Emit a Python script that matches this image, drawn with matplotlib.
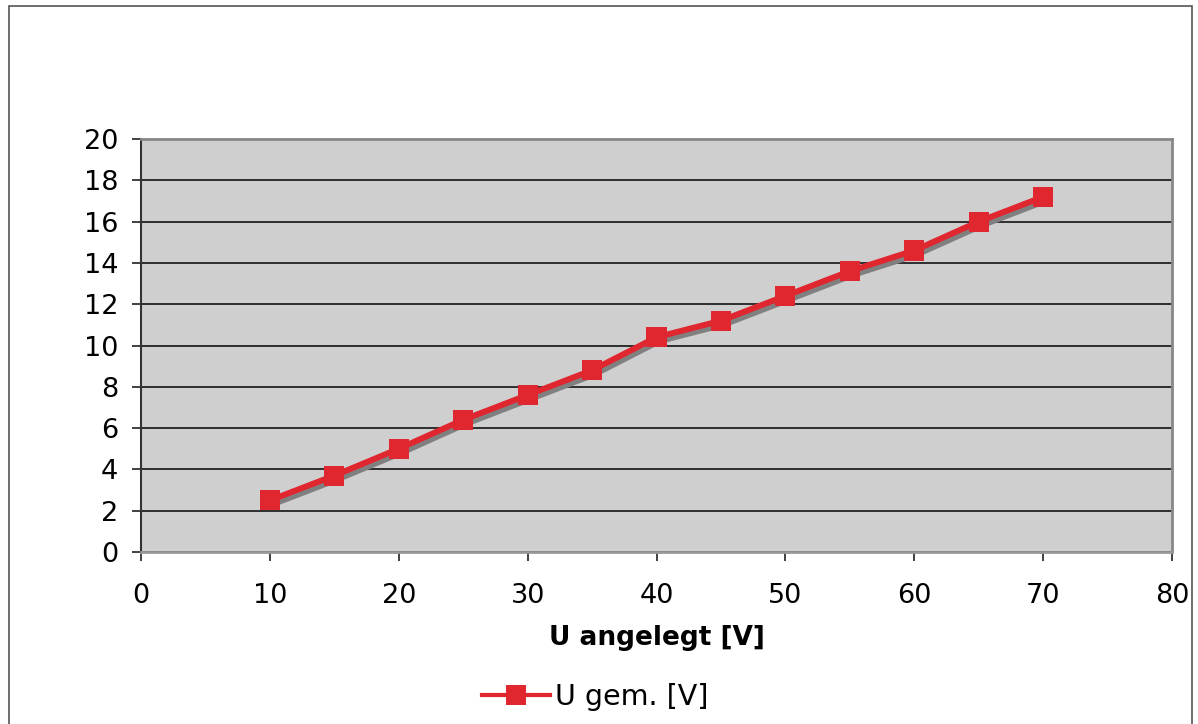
import matplotlib
matplotlib.use("Agg")
from matplotlib import pyplot as plt
from matplotlib import patheffects
from matplotlib.patches import Rectangle
from matplotlib.lines import Line2D

# measured values
u_angelegt = [10, 15, 20, 25, 30, 35, 40, 45, 50, 55, 60, 65, 70]
u_gem = [2.5, 3.7, 5.0, 6.4, 7.6, 8.8, 10.4, 11.2, 12.4, 13.6, 14.6, 16.0, 17.2]

red = '#E0262F'
W, H = 1198, 724
fig = plt.figure(figsize=(W / 100, H / 100), dpi=100)
ax = fig.add_axes([141 / W, 1 - 552 / H, (1172 - 141) / W, (552 - 139) / H])

# outer chart border
fig.patches.append(Rectangle((9 / W, -0.01), (1192 - 9) / W, 1 - 6 / H + 0.01,
                             transform=fig.transFigure, fill=False,
                             edgecolor='#555555', linewidth=1.2))

ax.set_facecolor('#CFCFCF')
ax.plot(u_angelegt, u_gem, color=red, linewidth=4.3, marker='s',
        markersize=14.5, markeredgewidth=0, zorder=3,
        path_effects=[patheffects.SimpleLineShadow(offset=(2, -2.8),
                                                   shadow_color='#808080', alpha=1),
                      patheffects.Normal()])

ax.set_xlim(0, 80)
ax.set_ylim(0, 20)
ax.set_xticks(range(0, 81, 10))
ax.set_yticks(range(0, 21, 2))
ax.yaxis.grid(True, color='#222222', linewidth=1.3)
ax.set_axisbelow(True)
ax.tick_params(direction='out', length=6.5, width=1.3, labelsize=19.5,
               color='#333333')
ax.tick_params(axis='x', pad=15.5)
ax.tick_params(axis='y', pad=10)
for s in ['top', 'right']:
    ax.spines[s].set_color('#888888')
    ax.spines[s].set_linewidth(2)
ax.spines['left'].set_color('#333333')
ax.spines['left'].set_linewidth(1.5)
ax.spines['bottom'].set_color('#999999')
ax.spines['bottom'].set_linewidth(2)

ax.set_xlabel('U angelegt [V]', fontsize=19, fontweight='bold', labelpad=12)

handle = Line2D([], [], color=red, linewidth=3, marker='s', markersize=14,
                markeredgewidth=0)
ax.legend([handle], ['U gem. [V]'], loc='center',
          bbox_to_anchor=(595 / W, 1 - 697 / H),
          bbox_transform=fig.transFigure, frameon=False, fontsize=20.5,
          handlelength=2.4, handletextpad=0.15)

fig.savefig('out.png', dpi=100)
